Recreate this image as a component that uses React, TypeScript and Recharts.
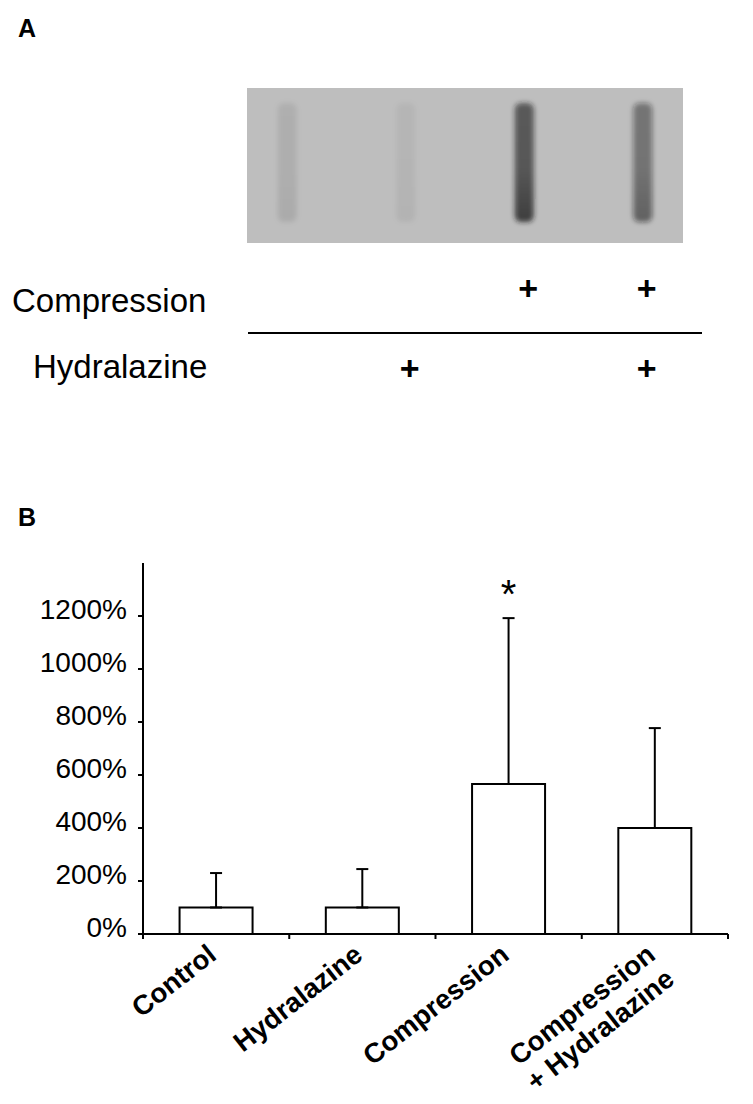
import React from 'react';
import { BarChart, Bar, XAxis, YAxis, ErrorBar, LabelList } from 'recharts';

// panel A: blot lanes
const lanes = ['lane1', 'lane2', 'lane3', 'lane4'];
const laneDensity = [0.1, 0.06, 0.78, 0.55];
const compressionOn = [false, false, true, true];
const hydralazineOn = [false, true, false, true];

// panel B: densitometry
const groups = ['Control', 'Hydralazine', 'Compression', 'Compression\n+ Hydralazine'];
const meanPct = [100, 100, 566, 400];
const sdPct = [130, 145, 626, 377];
const sigMarks = ['', '', '*', ''];
const yTicks = [0, 200, 400, 600, 800, 1000, 1200];

const FONT = "'Liberation Sans', Arial, Helvetica, sans-serif";

const laneData = lanes.map((lane, i) => ({
  lane,
  full: 1,
  density: laneDensity[i],
  compression: compressionOn[i],
  hydralazine: hydralazineOn[i],
}));

const barData = groups.map((name, i) => ({
  name,
  mean: meanPct[i],
  err: [0, sdPct[i]],
  sig: sigMarks[i],
}));

const LaneShape = (props: any) => {
  const { x, y, width, height, payload, index } = props;
  const cx = x + width / 2;
  const bottom = y + height;
  const d = payload.density;
  const id = `lane-${index}`;
  return (
    <g>
      <defs>
        <filter id={`${id}-blur`} x="-100%" y="-20%" width="300%" height="140%">
          <feGaussianBlur stdDeviation={2.8} />
        </filter>
        <linearGradient id={`${id}-grad`} x1="0" y1="0" x2="0" y2="1">
          <stop offset="0%" stopColor="#1a1a1a" stopOpacity={d * 0.8} />
          <stop offset="55%" stopColor="#1a1a1a" stopOpacity={d * 0.82} />
          <stop offset="100%" stopColor="#1a1a1a" stopOpacity={d} />
        </linearGradient>
      </defs>
      <rect
        x={x}
        y={y}
        width={width}
        height={height}
        rx={width / 3}
        fill={`url(#${id}-grad)`}
        filter={`url(#${id}-blur)`}
      />
      {payload.compression && (
        <text x={cx + 4} y={bottom + 78} textAnchor="middle" fontSize={34} fontWeight="bold" fontFamily={FONT} fill="#000">
          +
        </text>
      )}
      {payload.hydralazine && (
        <text x={cx + 4} y={bottom + 158} textAnchor="middle" fontSize={34} fontWeight="bold" fontFamily={FONT} fill="#000">
          +
        </text>
      )}
    </g>
  );
};

const PctTick = (props: any) => {
  const { x, y, payload } = props;
  return (
    <text x={x} y={y + 3} textAnchor="end" fontSize={28} fontFamily={FONT} fill="#000">
      {payload.value}%
    </text>
  );
};

const GroupTick = (props: any) => {
  const { x, y, payload, index } = props;
  const half = payload.offset ?? 73;
  const lines = String(payload.value).split('\n');
  return (
    <g>
      <line x1={x - half} x2={x - half} y1={y} y2={y + 5} stroke="#000" strokeWidth={2} />
      {index === groups.length - 1 && (
        <line x1={x + half} x2={x + half} y1={y} y2={y + 5} stroke="#000" strokeWidth={2} />
      )}
      <text
        transform={`translate(${x + 2},${y + 24}) rotate(-38)`}
        textAnchor="end"
        fontSize={27.5}
        fontWeight="bold"
        fontFamily={FONT}
        fill="#000"
      >
        {lines.map((l, i) => (
          <tspan key={i} x={0} dy={i === 0 ? 0 : 31}>
            {l}
          </tspan>
        ))}
      </text>
    </g>
  );
};

const SigLabel = (props: any) => {
  const { x, y, width, height, value, index } = props;
  if (!value) return null;
  const pxPerUnit = height / meanPct[index];
  const errTop = y - sdPct[index] * pxPerUnit;
  return (
    <text x={x + width / 2} y={errTop - 10} textAnchor="middle" fontSize={40} fontFamily={FONT} fill="#000">
      {value}
    </text>
  );
};

export default function App() {
  return (
    <div style={{ position: 'absolute', left: 0, top: 0, width: 753, height: 1104, background: '#fff', fontFamily: FONT }}>
      {/* blot background */}
      <div style={{ position: 'absolute', left: 247, top: 88, width: 436, height: 155, background: '#bebebe' }} />

      <svg style={{ position: 'absolute', left: 0, top: 0 }} width={753} height={1104}>
        <text x={18} y={37} fontSize={25} fontWeight="bold" fontFamily={FONT} fill="#000">A</text>
        <text x={12} y={312} fontSize={33} fontFamily={FONT} fill="#000">Compression</text>
        <line x1={248} x2={702} y1={333} y2={333} stroke="#000" strokeWidth={2} />
        <text x={33} y={378} fontSize={33} fontFamily={FONT} fill="#000">Hydralazine</text>
        <text x={18} y={526} fontSize={25} fontWeight="bold" fontFamily={FONT} fill="#000">B</text>
      </svg>

      <div style={{ position: 'absolute', left: 0, top: 0 }}>
        <BarChart width={753} height={420} data={laneData} margin={{ top: 103, right: 51, bottom: 198, left: 228 }} barCategoryGap="42%">
          <XAxis dataKey="lane" hide />
          <YAxis hide domain={[0, 1]} />
          <Bar dataKey="full" shape={<LaneShape />} isAnimationActive={false} />
        </BarChart>
      </div>

      <div style={{ position: 'absolute', left: 0, top: 540 }}>
        <BarChart width={753} height={560} data={barData} margin={{ top: 23, right: 25, bottom: 6, left: 0 }} barCategoryGap="25%">
          <XAxis
            dataKey="name"
            height={160}
            tickLine={false}
            tickSize={0}
            tickMargin={0}
            axisLine={{ stroke: '#000', strokeWidth: 2 }}
            tick={<GroupTick />}
            interval={0}
          />
          <YAxis
            width={143}
            domain={[0, 1400]}
            ticks={yTicks}
            tickSize={5}
            tickMargin={11}
            axisLine={{ stroke: '#000', strokeWidth: 2 }}
            tickLine={{ stroke: '#000', strokeWidth: 2 }}
            tick={<PctTick />}
            allowDataOverflow
          />
          <Bar dataKey="mean" fill="#fff" stroke="#000" strokeWidth={2} isAnimationActive={false}>
            <ErrorBar dataKey="err" direction="y" width={6} stroke="#000" strokeWidth={2} />
            <LabelList dataKey="sig" content={<SigLabel />} />
          </Bar>
        </BarChart>
      </div>
    </div>
  );
}
